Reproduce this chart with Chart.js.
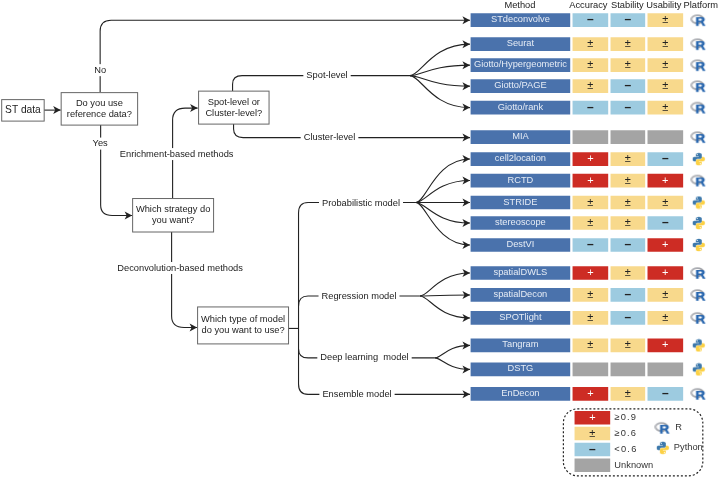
<!DOCTYPE html>
<html>
<head>
<meta charset="utf-8">
<style>
html, body { margin: 0; padding: 0; background: #fff; }
canvas { display: block; filter: blur(0.3px); }
</style>
<script src="https://cdn.jsdelivr.net/npm/chart.js@4/dist/chart.umd.min.js"></script>
</head>
<body>
<canvas id="flow" width="720" height="478"></canvas>
<script>
// table data, "?" means unknown
const methods = ["STdeconvolve", "Seurat", "Giotto/Hypergeometric", "Giotto/PAGE", "Giotto/rank", "MIA",
    "cell2location", "RCTD", "STRIDE", "stereoscope", "DestVI",
    "spatialDWLS", "spatialDecon", "SPOTlight", "Tangram", "DSTG", "EnDecon"];
const accuracy = ["-", "±", "±", "±", "-", "?", "+", "+", "±", "±", "-", "+", "±", "±", "±", "?", "+"];
const stability = ["-", "±", "±", "-", "-", "?", "±", "±", "±", "±", "-", "±", "-", "-", "±", "?", "±"];
const usability = ["±", "±", "±", "±", "±", "?", "-", "+", "±", "-", "+", "+", "±", "±", "+", "?", "-"];
const platforms = ["R", "R", "R", "R", "R", "R", "Py", "R", "Py", "Py", "Py", "R", "R", "R", "Py", "Py", "R"];
const headers = ["Method", "Accuracy", "Stability", "Usability", "Platform"];
const legendScores = ["+", "±", "-", "?"];
const legendTexts = ["≥0.9", "≥0.6", "<0.6", "Unknown"];

// layout, all in the 720x478 units of the two hidden axes
const rowY = [20, 44, 65, 86, 107.5, 137, 159, 180.5, 202.5, 223, 245, 273, 295, 318, 345.5, 369.5, 394];
const columns = { Method: [471, 570], Accuracy: [573, 608], Stability: [611, 645], Usability: [648, 683] };
const headerX = [520, 588.5, 627.5, 664, 701];
const iconX = 699;
const legendX = [575, 610];
const legendY = [418, 433.7, 449.7, 465.5];

const colors = { "+": "#cd2c24", "±": "#f8d98c", "-": "#9dcbe0", "?": "#a4a4a4" };
const methodBlue = "#4a72ac";
const ink = "#222";
const fontName = "'Liberation Sans'";

function makeRIcon() {
    const c = document.createElement("canvas");
    c.width = 17; c.height = 14;
    const g = c.getContext("2d");
    g.scale(0.82, 0.8);
    g.lineWidth = 2.2;
    const grad = g.createLinearGradient(0, 2, 18, 14);
    grad.addColorStop(0, "#b9bbc0");
    grad.addColorStop(1, "#8a8d94");
    g.strokeStyle = grad;
    g.beginPath();
    g.ellipse(8.6, 7.6, 7.2, 5, 0, 0, Math.PI * 2);
    g.stroke();
    g.fillStyle = "#2a68b0";
    g.beginPath();
    g.moveTo(7, 5); g.lineTo(14.5, 5);
    g.quadraticCurveTo(18, 5.4, 17.6, 8.4);
    g.quadraticCurveTo(17.2, 10.4, 15.6, 10.8);
    g.lineTo(18.6, 16); g.lineTo(15.2, 16);
    g.lineTo(12.8, 11.4); g.lineTo(10.2, 11.4);
    g.lineTo(10.2, 16); g.lineTo(7, 16);
    g.closePath();
    g.moveTo(10.2, 7); g.lineTo(10.2, 9.4); g.lineTo(13.6, 9.4);
    g.quadraticCurveTo(14.8, 8.2, 13.6, 7);
    g.closePath();
    g.fill("evenodd");
    return c;
}

function makePyIcon() {
    const c = document.createElement("canvas");
    c.width = 14; c.height = 14;
    const g = c.getContext("2d");
    g.scale(14 / 18, 14 / 18);
    function snake(color) {
        g.fillStyle = color;
        g.beginPath();
        g.moveTo(5.2, 6.2);
        g.lineTo(5.2, 3);
        g.quadraticCurveTo(5.4, 1, 9, 1);
        g.quadraticCurveTo(12.6, 1, 12.8, 3);
        g.lineTo(12.8, 7);
        g.quadraticCurveTo(12.6, 8.6, 11, 8.8);
        g.lineTo(7, 8.8);
        g.quadraticCurveTo(5.4, 9, 5.2, 10.6);
        g.lineTo(5.2, 12);
        g.lineTo(3.2, 12);
        g.quadraticCurveTo(1, 11.8, 1, 9);
        g.quadraticCurveTo(1, 6.4, 3.2, 6.2);
        g.lineTo(9, 6.2);
        g.lineTo(9, 5.4);
        g.lineTo(5.2, 5.4);
        g.closePath();
        g.fill();
        g.fillStyle = "#fff";
        g.beginPath();
        g.arc(7, 3, 0.8, 0, Math.PI * 2);
        g.fill();
    }
    snake("#3c78ab");
    g.translate(18, 18);
    g.rotate(Math.PI);
    snake("#fcd145");
    return c;
}

const rIcon = makeRIcon();
const pyIcon = makePyIcon();

// curved spray from the end of a model line to each method row
function fan(x0, y0, rows) {
    const xe = 470, dx = xe - x0;
    return rows.map(r => ({
        arrow: true,
        d: [["M", x0, y0], ["C", x0 + dx * 0.18, y0, x0 + dx * 0.36, rowY[r], xe, rowY[r]]]
    }));
}

const edges = [
    { arrow: true, d: [["M", 44, 110], ["L", 60.5, 110]] },
    { arrow: true, d: [["M", 100, 92], ["L", 100, 31], ["Q", 100, 20, 111, 20], ["L", 470, 20]] },
    { arrow: true, d: [["M", 100.5, 125], ["L", 100.5, 205], ["Q", 100.5, 215.5, 112, 215.5], ["L", 132, 215.5]] },
    { arrow: true, d: [["M", 172.5, 198], ["L", 172.5, 120], ["Q", 172.5, 108, 185, 108], ["L", 197.5, 108]] },
    { arrow: true, d: [["M", 171.5, 232], ["L", 171.5, 316], ["Q", 171.5, 327.5, 184, 327.5], ["L", 197, 327.5]] },
    { d: [["M", 232.5, 91], ["L", 232.5, 84], ["Q", 232.5, 75.5, 242, 75.5], ["L", 410, 75.5]] },
    { arrow: true, d: [["M", 233.5, 124], ["L", 233.5, 129], ["Q", 233.5, 137.5, 243, 137.5], ["L", 470, 137.5]] },
    { d: [["M", 288.5, 328.5], ["L", 298.5, 328.5]] },
    { d: [["M", 308, 202.5], ["Q", 298.5, 202.5, 298.5, 213], ["L", 298.5, 384], ["Q", 298.5, 394.5, 308, 394.5]] },
    { d: [["M", 308, 296], ["Q", 298.5, 296, 298.5, 306]] },
    { d: [["M", 298.5, 349], ["Q", 298.5, 358, 308, 358]] },
    { d: [["M", 308, 202.5], ["L", 416, 202.5]] },
    { d: [["M", 308, 296], ["L", 420, 296]] },
    { d: [["M", 308, 358], ["L", 435, 358]] },
    { arrow: true, d: [["M", 308, 394.5], ["L", 470, 394.5]] },
    ...fan(410, 75.5, [1, 2, 3, 4]),
    ...fan(416, 202.5, [6, 7, 8, 9, 10]),
    ...fan(420, 296, [11, 12, 13]),
    ...fan(435, 358, [14, 15])
];

const boxes = [
    { x: [1.5, 44], y: [99.5, 121], size: 10.2, lines: ["ST data"] },
    { x: [61, 137.5], y: [92.5, 125], size: 9.3, lines: ["Do you use", "reference data?"] },
    { x: [198.5, 269], y: [91, 124], size: 9.3, lines: ["Spot-level or", "Cluster-level?"] },
    { x: [132.5, 213.5], y: [198.5, 232], size: 9.3, lines: ["Which strategy do", "you want?"] },
    { x: [197.5, 288.5], y: [307, 344], size: 9.3, lines: ["Which type of model", "do you want to use?"] }
];

// text sitting on a line, a white patch hides the line behind it
const edgeLabels = [
    { text: "No", x: 100, y: 70 },
    { text: "Yes", x: 100, y: 143.5 },
    { text: "Enrichment-based methods", x: 176.5, y: 154 },
    { text: "Deconvolution-based methods", x: 180, y: 268 },
    { text: "Spot-level", x: 327, y: 75 },
    { text: "Cluster-level", x: 329.5, y: 137.5 },
    { text: "Probabilistic model", x: 361, y: 203 },
    { text: "Regression model", x: 359, y: 296 },
    { text: "Deep learning  model", x: 364.5, y: 358 },
    { text: "Ensemble model", x: 357, y: 395 }
];

const flowPlugin = {
    id: "flowPlugin",
    beforeDatasetsDraw(chart) {
        const ctx = chart.ctx;
        const px = v => chart.scales.x.getPixelForValue(v);
        const py = v => chart.scales.y.getPixelForValue(v);
        ctx.save();
        ctx.strokeStyle = ink;
        ctx.fillStyle = ink;
        ctx.lineWidth = 1.1;
        edges.forEach(e => {
            ctx.beginPath();
            e.d.forEach(c => {
                if (c[0] === "M") ctx.moveTo(px(c[1]), py(c[2]));
                if (c[0] === "L") ctx.lineTo(px(c[1]), py(c[2]));
                if (c[0] === "Q") ctx.quadraticCurveTo(px(c[1]), py(c[2]), px(c[3]), py(c[4]));
                if (c[0] === "C") ctx.bezierCurveTo(px(c[1]), py(c[2]), px(c[3]), py(c[4]), px(c[5]), py(c[6]));
            });
            ctx.stroke();
        });
        edges.filter(e => e.arrow).forEach(e => {
            const last = e.d[e.d.length - 1];
            const x = px(last[last.length - 2]), y = py(last[last.length - 1]);
            ctx.beginPath();
            ctx.moveTo(x, y);
            ctx.lineTo(x - 7.5, y - 4);
            ctx.lineTo(x - 5.5, y);
            ctx.lineTo(x - 7.5, y + 4);
            ctx.closePath();
            ctx.fill();
        });

        ctx.textAlign = "center";
        ctx.textBaseline = "middle";
        ctx.font = "9.3px " + fontName;
        edgeLabels.forEach(l => {
            const w = ctx.measureText(l.text).width;
            ctx.fillStyle = "#fff";
            ctx.fillRect(px(l.x) - w / 2 - 3, py(l.y) - 6, w + 6, 12);
            ctx.fillStyle = ink;
            ctx.fillText(l.text, px(l.x), py(l.y));
        });

        boxes.forEach(b => {
            ctx.strokeStyle = "#666";
            ctx.lineWidth = 1;
            ctx.strokeRect(px(b.x[0]), py(b.y[0]), px(b.x[1]) - px(b.x[0]), py(b.y[1]) - py(b.y[0]));
            ctx.fillStyle = ink;
            ctx.font = b.size + "px " + fontName;
            const cx = (px(b.x[0]) + px(b.x[1])) / 2, cy = (py(b.y[0]) + py(b.y[1])) / 2;
            b.lines.forEach((t, i) => {
                ctx.fillText(t, cx, cy + (i - (b.lines.length - 1) / 2) * 11);
            });
        });

        // dashed frame round the legend
        ctx.strokeStyle = "#222";
        ctx.lineWidth = 1.2;
        ctx.setLineDash([2, 2]);
        ctx.beginPath();
        ctx.roundRect(px(563.5), py(409), px(703) - px(563.5), py(476) - py(409), 14);
        ctx.stroke();
        ctx.restore();
    },
    afterDatasetsDraw(chart) {
        const ctx = chart.ctx;
        const px = v => chart.scales.x.getPixelForValue(v);
        const py = v => chart.scales.y.getPixelForValue(v);
        ctx.save();
        ctx.textAlign = "center";
        ctx.textBaseline = "middle";
        ctx.font = "9.3px " + fontName;
        ctx.fillStyle = "#222";
        headers.forEach((h, i) => ctx.fillText(h, px(headerX[i]), py(5.5)));

        ctx.fillStyle = "#e6ecf5";
        methods.forEach((m, i) => {
            ctx.fillText(m, px((columns.Method[0] + columns.Method[1]) / 2), py(rowY[i] - 0.5));
        });

        const glyph = (s, x, y) => {
            if (s === "?") return;
            ctx.fillStyle = s === "+" ? "#fff" : "#222";
            ctx.font = (s === "-" ? "bold 12px " : "11px ") + fontName;
            ctx.fillText(s === "-" ? "–" : s, x, y);
        };
        [[accuracy, columns.Accuracy], [stability, columns.Stability], [usability, columns.Usability]].forEach(([vals, col]) => {
            vals.forEach((s, i) => glyph(s, px((col[0] + col[1]) / 2), py(rowY[i])));
        });
        legendScores.forEach((s, i) => glyph(s, px((legendX[0] + legendX[1]) / 2), py(legendY[i])));

        ctx.textAlign = "left";
        ctx.fillStyle = "#333";
        ctx.font = "9.3px " + fontName;
        legendTexts.forEach((t, i) => {
            ctx.letterSpacing = i < 3 ? "1.2px" : "0px";
            ctx.fillText(t, px(614.5), py(legendY[i]));
        });
        ctx.letterSpacing = "0px";
        ctx.fillText("R", px(675.5), py(428));
        ctx.fillText("Python", px(674), py(448));
        ctx.restore();
    }
};

function cellDataset(values, col, ys, thick) {
    return {
        type: "bar",
        indexAxis: "y",
        grouped: false,
        barThickness: thick,
        data: values.map((s, i) => ({ x: col, y: ys[i] })),
        backgroundColor: values.map(s => colors[s] || methodBlue),
        borderWidth: 0
    };
}

// tiny radius so the hidden axes keep the whole canvas, the icon canvas sets the drawn size
function iconDataset(xs, ys, names) {
    return {
        type: "scatter",
        data: names.map((n, i) => ({ x: xs[i], y: ys[i] })),
        pointStyle: names.map(n => n === "R" ? rIcon : pyIcon),
        pointRadius: 0.2,
        pointHoverRadius: 0,
        pointHitRadius: 0,
        pointBorderWidth: 0,
        showLine: false
    };
}

new Chart(document.getElementById("flow"), {
    type: "bar",
    data: {
        datasets: [
            cellDataset(methods, columns.Method, rowY, 13),
            cellDataset(accuracy, columns.Accuracy, rowY, 13),
            cellDataset(stability, columns.Stability, rowY, 13),
            cellDataset(usability, columns.Usability, rowY, 13),
            cellDataset(legendScores, legendX, legendY, 12.8),
            iconDataset(rowY.map(() => iconX), rowY, platforms),
            iconDataset([663, 663], [428, 448], ["R", "Py"])
        ]
    },
    options: {
        responsive: false,
        animation: false,
        events: [],
        layout: { padding: 0 },
        plugins: { legend: { display: false }, title: { display: false }, tooltip: { enabled: false } },
        scales: {
            x: { type: "linear", min: 0, max: 720, offset: false, display: false },
            y: { type: "linear", min: 0, max: 478, offset: false, reverse: true, display: false }
        }
    },
    plugins: [flowPlugin]
});
</script>
</body>
</html>
